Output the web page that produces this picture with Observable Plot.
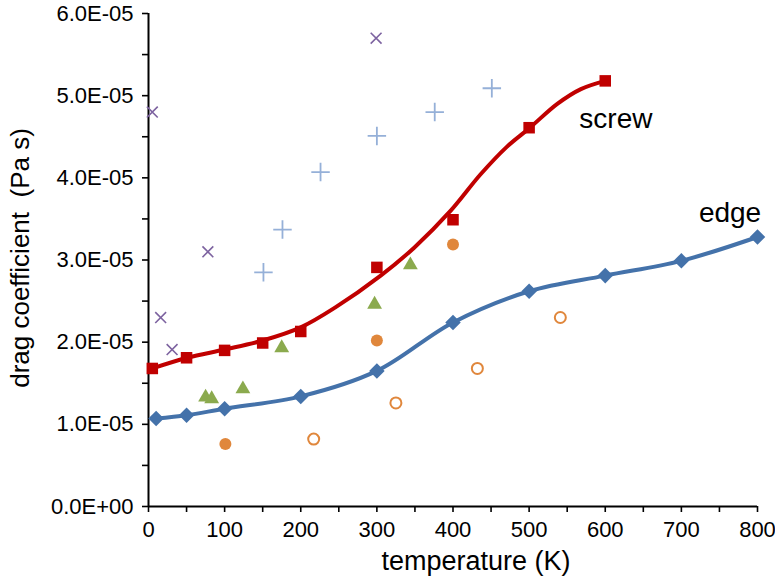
<!DOCTYPE html>
<html>
<head>
<meta charset="utf-8">
<script src="https://cdn.jsdelivr.net/npm/d3@7"></script>
<script src="https://cdn.jsdelivr.net/npm/@observablehq/plot@0.6"></script>
<style>
  html, body { margin: 0; padding: 0; background: #fff; }
  #chart svg { display: block; }
</style>
</head>
<body>
<div id="chart"></div>
<script>
// Edge dislocation (blue diamonds, smoothed line)
const edgeT = [10, 50, 100, 200, 300, 400, 500, 600, 700, 800];
const edgeB = [1.07e-5, 1.11e-5, 1.19e-5, 1.34e-5, 1.65e-5, 2.24e-5, 2.62e-5, 2.81e-5, 2.99e-5, 3.28e-5];
// Screw dislocation (red squares)
const screwT = [5, 50, 100, 150, 200, 300, 400, 500, 600];
const screwB = [1.68e-5, 1.81e-5, 1.90e-5, 1.99e-5, 2.13e-5, 2.91e-5, 3.49e-5, 4.61e-5, 5.18e-5];
// Screw smooth curve
const screwCurveT = [5, 51, 100, 150, 200, 245, 305, 349, 397, 436, 471, 501, 537, 568, 600];
const screwCurveB = [1.68e-5, 1.81e-5, 1.91e-5, 2.02e-5, 2.18e-5, 2.42e-5, 2.81e-5, 3.15e-5, 3.60e-5, 4.04e-5, 4.38e-5, 4.61e-5, 4.90e-5, 5.08e-5, 5.18e-5];
// Purple crosses
const crossT = [5, 16, 31, 78, 299];
const crossB = [4.80e-5, 2.30e-5, 1.91e-5, 3.10e-5, 5.70e-5];
// Light blue pluses
const plusT = [151, 176, 226, 300, 376, 451];
const plusB = [2.85e-5, 3.37e-5, 4.07e-5, 4.51e-5, 4.80e-5, 5.09e-5];
// Green triangles
const triT = [75, 83, 124, 175, 297, 344];
const triB = [1.33e-5, 1.31e-5, 1.43e-5, 1.93e-5, 2.46e-5, 2.94e-5];
// Orange filled circles
const dotT = [101, 300, 400];
const dotB = [0.76e-5, 2.02e-5, 3.19e-5];
// Orange open circles
const ringT = [217, 325, 432, 541];
const ringB = [0.82e-5, 1.26e-5, 1.68e-5, 2.30e-5];
// Axis ticks
const xTicks = [0, 100, 200, 300, 400, 500, 600, 700, 800];
const xMinor = [0, 50, 100, 150, 200, 250, 300, 350, 400, 450, 500, 550, 600, 650, 700, 750, 800];
const yTicks = [0, 1e-5, 2e-5, 3e-5, 4e-5, 5e-5, 6e-5];
const yMinor = [0, 0.5e-5, 1e-5, 1.5e-5, 2e-5, 2.5e-5, 3e-5, 3.5e-5, 4e-5, 4.5e-5, 5e-5, 5.5e-5, 6e-5];
// Curve labels
const curveLabels = ["screw", "edge"];

const zip = (xs, ys) => xs.map((x, i) => ({T: x, B: ys[i]}));
const edge = zip(edgeT, edgeB);
const screw = zip(screwT, screwB);
const screwCurve = zip(screwCurveT, screwCurveB);
const cross = zip(crossT, crossB);
const plus = zip(plusT, plusB);
const tri = zip(triT, triB);
const dot = zip(dotT, dotB);
const ring = zip(ringT, ringB);

function sci(d) {
  if (Math.abs(d) < 1e-12) return "0.0E+00";
  const [m, e] = d.toExponential(1).split("e");
  const n = +e;
  return m + "E" + (n < 0 ? "-" : "+") + String(Math.abs(n)).padStart(2, "0");
}

const font = "'Liberation Sans', Arial, sans-serif";
const labelData = [
  {T: 566, B: 4.71e-5, text: curveLabels[0]},
  {T: 723, B: 3.57e-5, text: curveLabels[1]}
];

const plot = Plot.plot({
  width: 775,
  height: 577,
  marginLeft: 148,
  marginRight: 18,
  marginTop: 13,
  marginBottom: 71,
  style: {fontFamily: font, background: "#fff"},
  x: {domain: [0, 800], axis: null},
  y: {domain: [0, 6e-5], axis: null},
  marks: [
    Plot.axisX({ticks: xMinor, tickSize: 6, tickFormat: () => "", stroke: "#000", strokeWidth: 1.6, label: null}),
    Plot.axisX({ticks: xTicks, tickSize: 0, tickPadding: 15, fontSize: 22, fill: "#000", label: null}),
    Plot.axisY({ticks: yMinor, tickSize: 6, tickFormat: () => "", stroke: "#000", strokeWidth: 1.6, label: null}),
    Plot.axisY({ticks: yTicks, tickSize: 0, tickPadding: 15, fontSize: 22, fill: "#000", tickFormat: sci, label: null}),
    Plot.ruleY([0], {stroke: "#000", strokeWidth: 2}),
    Plot.ruleX([0], {stroke: "#000", strokeWidth: 2}),
    Plot.text(["temperature (K)"], {frameAnchor: "bottom", textAnchor: "middle", lineAnchor: "middle", dx: 23, dy: 55, fontSize: 27, fill: "#000"}),
    Plot.text(["drag coefficient  (Pa s)"], {frameAnchor: "left", textAnchor: "middle", lineAnchor: "middle", dx: -128, dy: -2, rotate: -90, fontSize: 26, fill: "#000"}),
    // scattered markers
    Plot.dot(cross, {x: "T", y: "B", symbol: "times", stroke: "#7D63A0", strokeWidth: 1.6, r: 5}),
    Plot.dot(plus, {x: "T", y: "B", symbol: "plus", stroke: "#95B0D8", strokeWidth: 1.8, r: 6}),
    Plot.dot(tri, {x: "T", y: "B", symbol: "triangle", fill: "#8BAA4E", r: 5.5}),
    Plot.dot(dot, {x: "T", y: "B", symbol: "circle", fill: "#E0873C", r: 6}),
    Plot.dot(ring, {x: "T", y: "B", symbol: "circle", fill: "#fff", stroke: "#E0873C", strokeWidth: 2, r: 5.5}),
    // smoothed curves
    Plot.line(screwCurve, {x: "T", y: "B", curve: "catmull-rom", stroke: "#C00000", strokeWidth: 4}),
    Plot.dot(screw, {x: "T", y: "B", symbol: "square", fill: "#C00000", r: 6.5}),
    Plot.line(edge, {x: "T", y: "B", curve: "catmull-rom", stroke: "#4472AA", strokeWidth: 4}),
    Plot.dot(edge, {x: "T", y: "B", symbol: "diamond2", fill: "#4472AA", r: 7}),
    Plot.text(labelData, {x: "T", y: "B", text: "text", textAnchor: "start", fontSize: 28, fill: "#000"})
  ]
});
document.getElementById("chart").appendChild(plot);
</script>
</body>
</html>
